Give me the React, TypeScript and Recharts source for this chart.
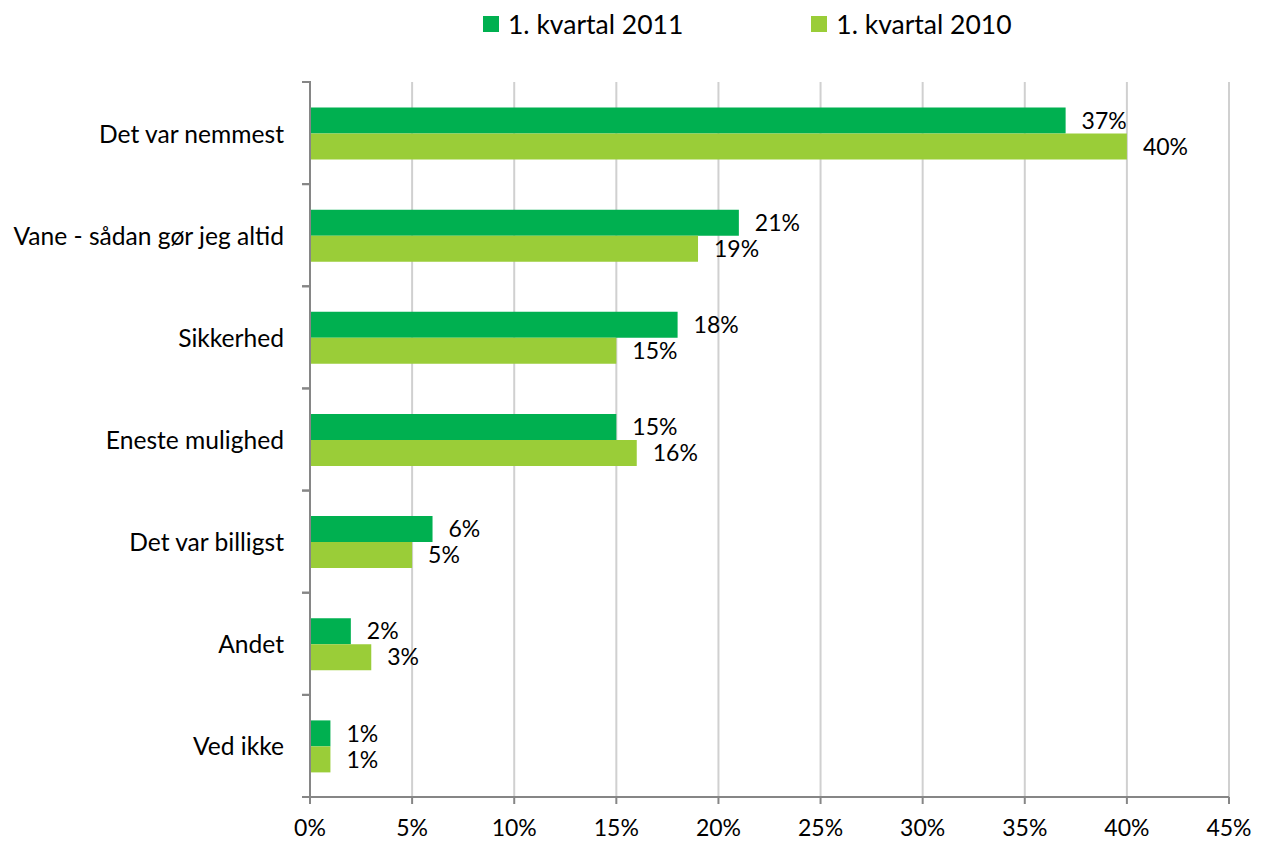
import { Bar, BarChart, CartesianGrid, LabelList, XAxis, YAxis } from "recharts";

const categories = [
  "Det var nemmest",
  "Vane - sådan gør jeg altid",
  "Sikkerhed",
  "Eneste mulighed",
  "Det var billigst",
  "Andet",
  "Ved ikke",
];
const values2011 = [37, 21, 18, 15, 6, 2, 1];
const values2010 = [40, 19, 15, 16, 5, 3, 1];
const xTicks = [0, 5, 10, 15, 20, 25, 30, 35, 40, 45];
const seriesNames = ["1. kvartal 2011", "1. kvartal 2010"];

const data = categories.map((name, i) => ({
  name,
  q2011: values2011[i],
  q2010: values2010[i],
}));

const W = 1264;
const H = 841;
const MARGIN = { top: 82, right: 35, bottom: 0, left: 0 };
const X_AXIS_H = 44;
const DARK = "#00B050";
const LIGHT = "#9ACD38";
const FONT = "Lato, 'Open Sans', sans-serif";

const bandHalf = (H - MARGIN.top - MARGIN.bottom - X_AXIS_H) / categories.length / 2;

function CategoryTick({ x, y, payload }: { x: number; y: number; payload: { value: string } }) {
  return (
    <g>
      <line x1={x} x2={x + 9} y1={y - bandHalf} y2={y - bandHalf} stroke="#868686" strokeWidth={2} />
      <line x1={x} x2={x + 9} y1={y + bandHalf} y2={y + bandHalf} stroke="#868686" strokeWidth={2} />
      <text x={x - 18} y={y} textAnchor="end" dominantBaseline="central" fontSize={24.6} fill="#000">
        {payload.value}
      </text>
    </g>
  );
}

function LegendBox() {
  const colors = [DARK, LIGHT];
  return (
    <div
      style={{
        position: "absolute",
        top: 7,
        left: 483,
        display: "flex",
        gap: 128,
        fontFamily: FONT,
        fontSize: 26.5,
        lineHeight: "34px",
      }}
    >
      {seriesNames.map((label, i) => (
        <div key={label} style={{ display: "flex", alignItems: "center" }}>
          <span style={{ width: 16, height: 16, background: colors[i], display: "inline-block", marginRight: 9 }} />
          <span>{label}</span>
        </div>
      ))}
    </div>
  );
}

export default function App() {
  return (
    <div style={{ position: "absolute", left: 0, top: 0, width: W, height: H, background: "#fff", fontFamily: FONT }}>
      <LegendBox />
      <BarChart
        width={W}
        height={H}
        data={data}
        layout="vertical"
        margin={MARGIN}
        barGap={0}
        barCategoryGap="25%"
      >
        <CartesianGrid horizontal={false} stroke="#D0D0D0" strokeWidth={2} />
        <XAxis
          type="number"
          domain={[0, 45]}
          ticks={xTicks}
          interval={0}
          tickFormatter={(v) => `${v}%`}
          height={X_AXIS_H}
          stroke="#868686"
          strokeWidth={2}
          tickSize={7}
          tickMargin={16}
          tick={{ fill: "#000", fontSize: 23 }}
        />
        <YAxis
          type="category"
          dataKey="name"
          width={310}
          stroke="#868686"
          strokeWidth={2}
          tickLine={false}
          tick={CategoryTick as any}
          interval={0}
        />
        <Bar dataKey="q2011" name={seriesNames[0]} fill={DARK} isAnimationActive={false}>
          <LabelList dataKey="q2011" position="right" offset={16} formatter={(v: any) => `${v}%`} fill="#000" fontSize={23} />
        </Bar>
        <Bar dataKey="q2010" name={seriesNames[1]} fill={LIGHT} isAnimationActive={false}>
          <LabelList dataKey="q2010" position="right" offset={16} formatter={(v: any) => `${v}%`} fill="#000" fontSize={23} />
        </Bar>
      </BarChart>
    </div>
  );
}
